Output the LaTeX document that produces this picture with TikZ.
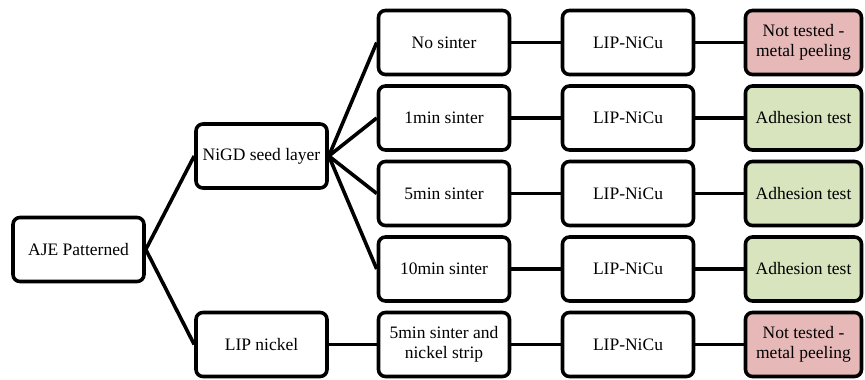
\documentclass[tikz,border=0pt]{standalone}
\usepackage{fontspec}
\setmainfont{Liberation Serif}
\definecolor{redfill}{HTML}{E6B9B8}
\definecolor{greenfill}{HTML}{D7E4BD}
\begin{document}
\begin{tikzpicture}[x=1pt,y=-1pt,
  box/.style={draw=black, fill=white, line width=3.6pt, rounded corners=7pt, minimum width=131pt, minimum height=64pt, inner sep=2pt, align=center, font=\fontsize{17.5}{20}\selectfont},
  res/.style={box, minimum width=116pt},
  conn/.style={line width=3.6pt}]
\useasboundingbox (0,0) rectangle (865,380);
\node[box] (aje) at (78.5,249.5) {AJE Patterned};
\node[box] (nigd) at (261.5,156) {NiGD seed layer};
\node[box] (lipn) at (261.5,344.5) {LIP nickel};
\node[box] (s0) at (444,42.5) {No sinter};
\node[box] (s1) at (444,118) {1min sinter};
\node[box] (s5) at (444,193.5) {5min sinter};
\node[box] (s10) at (444,269) {10min sinter};
\node[box] (s5n) at (444,344.5) {5min sinter and\\nickel strip};
\node[box] (l0) at (628,42.5) {LIP-NiCu};
\node[box] (l1) at (628,118) {LIP-NiCu};
\node[box] (l5) at (628,193.5) {LIP-NiCu};
\node[box] (l10) at (628,269) {LIP-NiCu};
\node[box] (l5n) at (628,344.5) {LIP-NiCu};
\node[res, fill=redfill] (r0) at (803.5,42.5) {Not tested -\\metal peeling};
\node[res, fill=greenfill] (r1) at (803.5,118) {Adhesion test};
\node[res, fill=greenfill] (r5) at (803.5,193.5) {Adhesion test};
\node[res, fill=greenfill] (r10) at (803.5,269) {Adhesion test};
\node[res, fill=redfill] (r5n) at (803.5,344.5) {Not tested -\\metal peeling};
\draw[conn] (aje.east) -- (nigd.west);
\draw[conn] (aje.east) -- (lipn.west);
\foreach \s in {s0,s1,s5,s10} \draw[conn] (nigd.east) -- (\s.west);
\draw[conn] (lipn.east) -- (s5n.west);
\foreach \a/\b/\c in {s0/l0/r0,s1/l1/r1,s5/l5/r5,s10/l10/r10,s5n/l5n/r5n} {
  \draw[conn] (\a.east) -- (\b.west);
  \draw[conn] (\b.east) -- (\c.west);
}
\end{tikzpicture}
\end{document}
